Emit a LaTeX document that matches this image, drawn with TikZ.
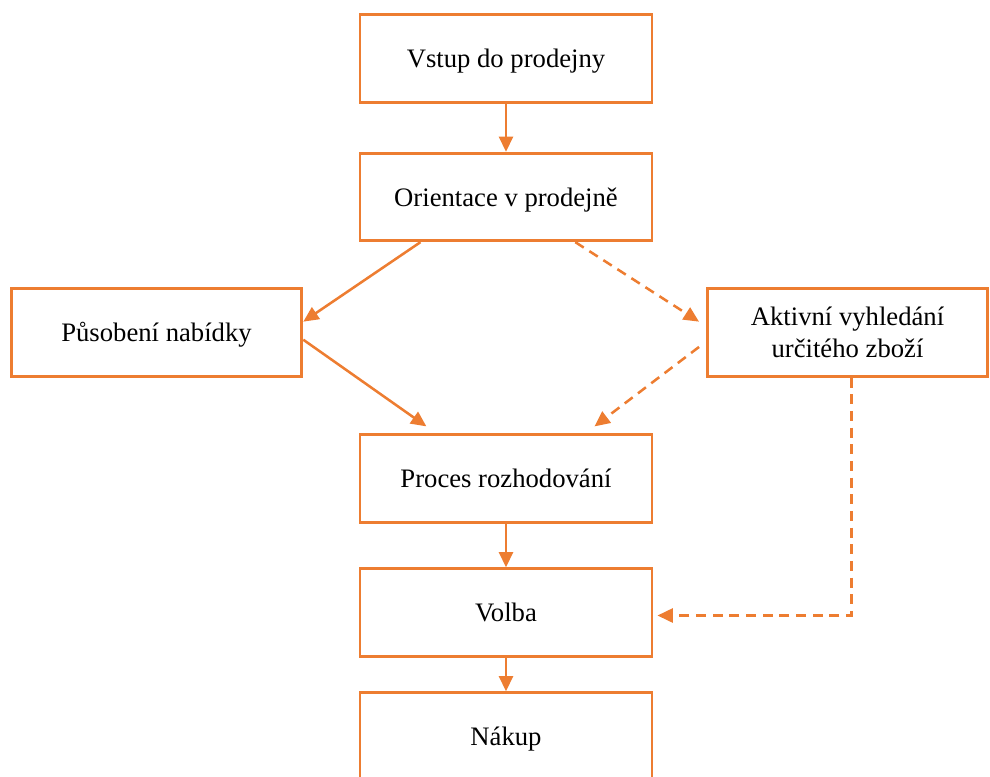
\documentclass[tikz,border=0pt]{standalone}
\usepackage{fontspec}
\setmainfont{Liberation Serif}
\usepackage{xcolor}
\usetikzlibrary{arrows.meta, positioning, calc}
\definecolor{boxorange}{HTML}{ED7D31}

\begin{document}
\begin{tikzpicture}[x=0.75pt, y=-0.75pt,
        stage/.style={draw=boxorange, line width=2.2pt, rectangle, minimum width=219pt, minimum height=65.5pt, align=center, text height=14pt, text depth=0pt, font=\fontsize{20}{24}\selectfont},
        flow/.style={draw=boxorange, line width=1.9pt, -{Triangle[length=11.5pt, width=10.5pt]}},
        optflow/.style={flow, dash pattern=on 7.5pt off 5pt}]
        \useasboundingbox (0,0) rectangle (990,776);
        \clip (0,0) rectangle (990,776);

        % Nodes
        \node (vstup) [stage] at (506,58.5) {Vstup do prodejny};
        \node (orient) [stage] at (506,197) {Orientace v prodejně};

        \node (pusob) [stage, minimum width=218pt] at (156.5,332.5) {Působení nabídky};
        \node (aktiv) [stage, minimum width=210pt, text height={}, text depth={}] at (847.5,332.5) {Aktivní vyhledání\\určitého zboží};

        \node (proces) [stage] at (506,478.5) {Proces rozhodování};
        \node (volba) [stage] at (506,612.5) {Volba};
        \node (nakup) [stage] at (506,736.5) {Nákup};

        % Arrows
        \draw[flow] (vstup) -- (orient);
        \draw[flow] ($(orient.south west)!0.21!(orient.south east)$) -- ($(pusob.north east)!0.38!(pusob.south east)$);
        \draw[optflow] ($(orient.south west)!0.735!(orient.south east)$) -- ($(aktiv.north west)!0.38!(aktiv.south west) + (-7,0)$);
        \draw[flow] ($(pusob.north east)!0.58!(pusob.south east)$) -- ($(proces.north west)!0.23!(proces.north east) + (0,-7)$);
        \draw[optflow] ($(aktiv.north west)!0.66!(aktiv.south west) + (-7,0)$) -- ($(proces.north west)!0.8!(proces.north east) + (0,-7)$);
        \draw[flow] (proces) -- (volba);
        \draw[optflow] ($(aktiv.south) + (4,0)$) |- ($(volba.east) + (4,3)$);
        \draw[flow] (volba) -- (nakup);
    \end{tikzpicture}
\end{document}
